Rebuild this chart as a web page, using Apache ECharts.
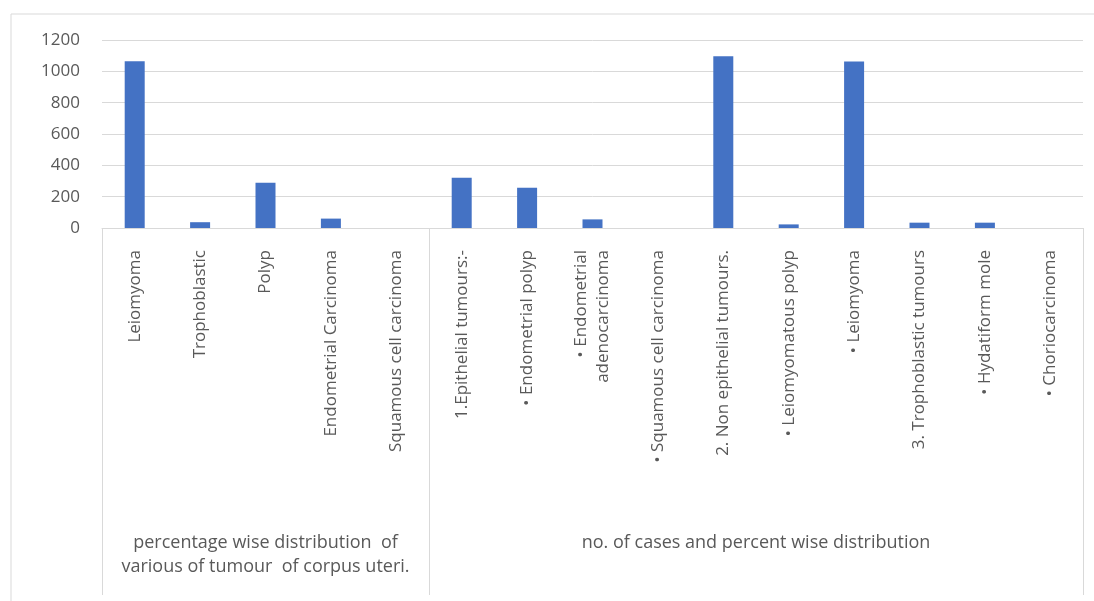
<!DOCTYPE html>
<html>
<head>
<meta charset="utf-8">
<script src="https://cdn.jsdelivr.net/npm/echarts@6/dist/echarts.min.js"></script>
<style>
  html, body { margin: 0; padding: 0; background: #fff; }
  #chart { width: 1094px; height: 601px; }
</style>
</head>
<body>
<div id="chart"></div>
<script>
// categories (two groups share one axis)
const categories = [
    'Leiomyoma',
    'Trophoblastic',
    'Polyp',
    'Endometrial Carcinoma',
    'Squamous cell carcinoma',
    '1.Epithelial tumours:-',
    '• Endometrial polyp',
    '• Endometrial\nadenocarcinoma',
    '• Squamous cell carcinoma',
    '2. Non epithelial tumours.',
    '• Leiomyomatous polyp',
    '• Leiomyoma',
    '3. Trophoblastic tumours',
    '• Hydatiform mole',
    '• Choriocarcinoma'
];

// values
const values = [1065, 37, 289, 60, 0, 321, 257, 55, 0, 1096, 23, 1063, 34, 34, 0];

// y axis ticks
const yTicks = { min: 0, max: 1200, interval: 200 };

// group labels (centre position on a 0..15 scale) and group borders
const groupCenters = [2.5, 10];
const groupLabels = [
    'percentage wise distribution  of\nvarious of tumour  of corpus uteri.',
    'no. of cases and percent wise distribution'
];
const groupBorders = [0, 5, 15];

const textColor = '#595959';
const lineColor = '#d9d9d9';
const font = 'Open Sans';

const chart = echarts.init(document.getElementById('chart'));

chart.setOption({
    animation: false,
    backgroundColor: '#fff',
    textStyle: { fontFamily: font },
    graphic: [
        {
            type: 'rect',
            shape: { x: 11, y: 14, width: 1100, height: 600 },
            style: { fill: 'none', stroke: lineColor, lineWidth: 1 },
            silent: true
        }
    ],
    grid: {
        left: 102,
        right: 11,
        top: 40,
        bottom: 373,
        outerBoundsMode: 'none'
    },
    xAxis: [
        {
            type: 'category',
            data: categories,
            axisLine: { show: true, lineStyle: { color: lineColor } },
            axisTick: { show: false },
            axisLabel: {
                interval: 0,
                rotate: 90,
                margin: 22,
                fontSize: 17,
                lineHeight: 22,
                color: textColor,
                fontFamily: font
            }
        },
        {
            // group axis: borders drawn as long ticks, group names as labels
            type: 'value',
            min: 0,
            max: 15,
            position: 'bottom',
            offset: 367,
            axisLine: { show: false },
            splitLine: { show: false },
            axisTick: {
                show: true,
                inside: true,
                length: 367,
                customValues: groupBorders,
                lineStyle: { color: lineColor }
            },
            axisLabel: {
                show: true,
                inside: true,
                verticalAlign: 'top',
                margin: 64,
                customValues: groupCenters,
                formatter: (v) => groupLabels[groupCenters.indexOf(v)],
                fontSize: 18,
                lineHeight: 24,
                color: textColor,
                fontFamily: font
            }
        }
    ],
    yAxis: {
        type: 'value',
        min: yTicks.min,
        max: yTicks.max,
        interval: yTicks.interval,
        axisLine: { show: false },
        axisTick: { show: false },
        splitLine: { lineStyle: { color: lineColor, width: 1 } },
        axisLabel: {
            margin: 22,
            fontSize: 17,
            color: textColor,
            fontFamily: font,
            formatter: (v) => String(v)
        }
    },
    series: [
        {
            type: 'bar',
            xAxisIndex: 0,
            data: values,
            barWidth: 20,
            itemStyle: { color: '#4472C4' }
        }
    ]
});
</script>
</body>
</html>
